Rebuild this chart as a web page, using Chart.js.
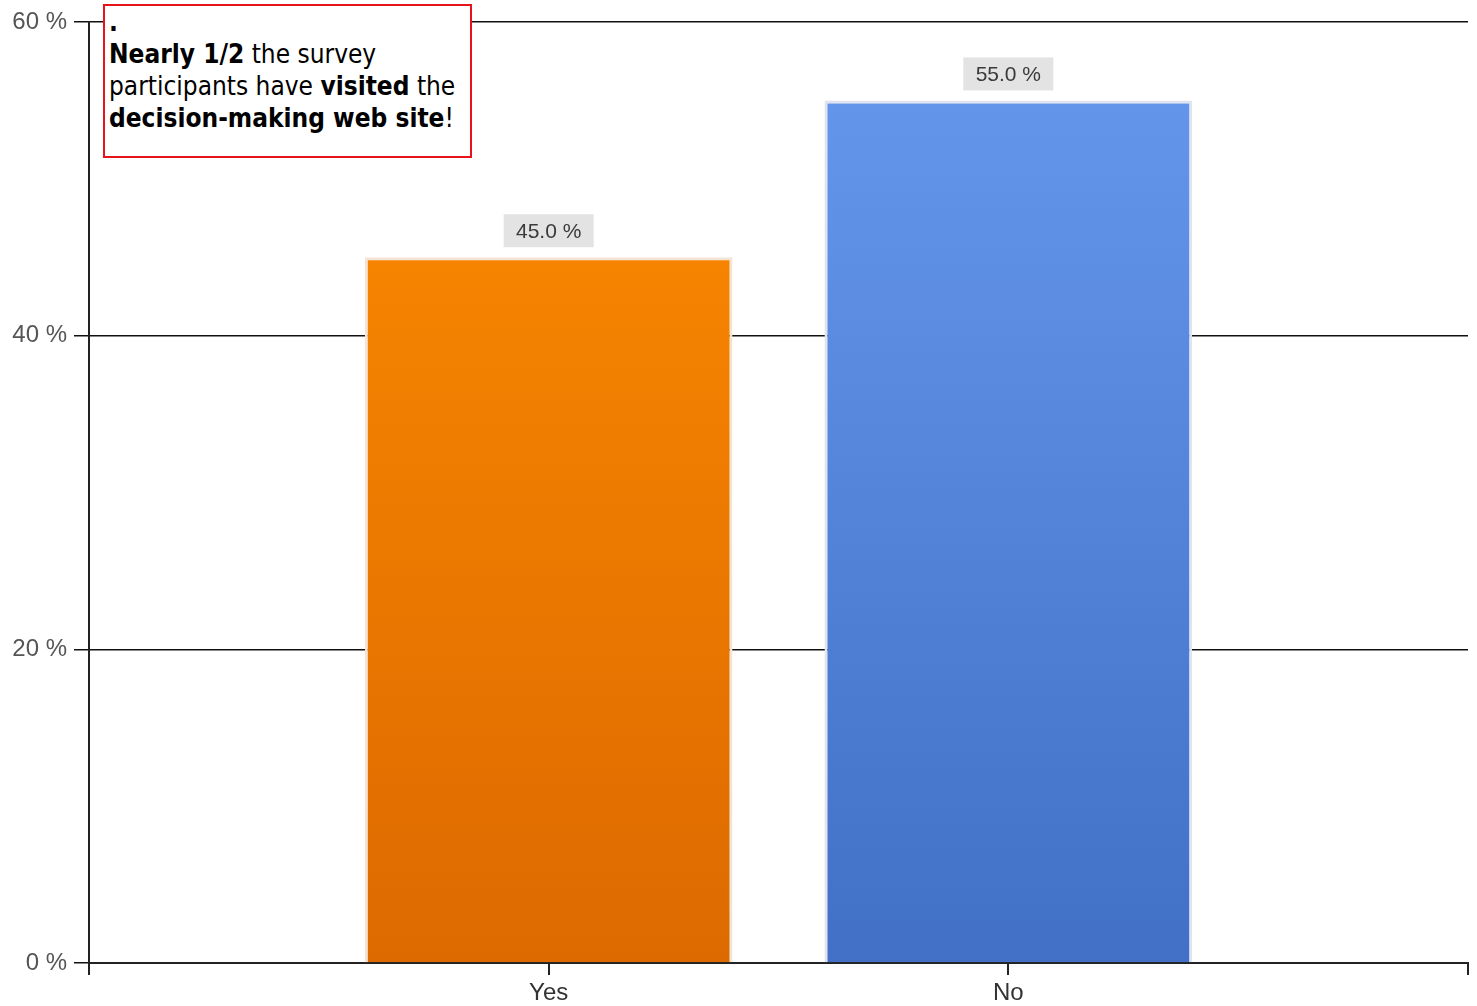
<!DOCTYPE html>
<html>
<head>
<meta charset="utf-8">
<script src="https://cdn.jsdelivr.net/npm/chart.js@4"></script>
<style>
  html, body { margin: 0; padding: 0; background: #fff; }
  #wrap { position: relative; width: 1477px; height: 1006px; }
  #note {
    position: absolute; left: 103px; top: 4px; width: 369px; height: 154px;
    border: 2px solid #e8141c; background: #fff;
    font-family: "DejaVu Sans Condensed", "DejaVu Sans", sans-serif;
    font-size: 26px; line-height: 32px; color: #000;
    padding: 0 0 0 4px; box-sizing: border-box;
  }
</style>
</head>
<body>
<div id="wrap">
  <canvas id="chart" width="1477" height="1006"></canvas>
  <div id="note"><b>.</b><br><b>Nearly 1/2</b> the survey participants have <b>visited</b> the <b>decision-making web site</b>!</div>
</div>
<script>
(function () {
  'use strict';

  // chart data
  const categories = ['', 'Yes', 'No', ''];
  const percentValues = [null, 45.0, 55.0, null];
  const yTicks = [0, 20, 40, 60];

  const topColors = [null, '#ff8c00', '#6699ee', null];
  const bottomColors = [null, '#dc6a00', '#4170c6', null];

  function barFill(ctx) {
    let area = ctx.chart.chartArea;
    let i = ctx.dataIndex;
    if (!area || !topColors[i]) return 'rgba(0,0,0,0)';
    let g = ctx.chart.ctx.createLinearGradient(0, area.top, 0, area.bottom);
    g.addColorStop(0, topColors[i]);
    g.addColorStop(1, bottomColors[i]);
    return g;
  }

  //VALUE BOXES ABOVE THE BARS
  const valueBoxes = {
    id: 'valueBoxes',
    afterDatasetsDraw: function (chart) {
      let ctx = chart.ctx;
      let meta = chart.getDatasetMeta(0);
      ctx.save();
      ctx.font = '21px "Liberation Sans", Arial, sans-serif';
      ctx.textAlign = 'center';
      ctx.textBaseline = 'middle';
      meta.data.forEach(function (bar, i) {
        let v = percentValues[i];
        if (v === null) return;
        let bw = 90, bh = 33;
        let bx = bar.x - bw / 2, by = bar.y - 10 - bh;
        ctx.fillStyle = '#e3e3e3';
        ctx.fillRect(bx, by, bw, bh);
        ctx.fillStyle = '#3a3a3a';
        ctx.fillText(v.toFixed(1) + ' %', bar.x, by + bh / 2 + 1);
      });
      ctx.restore();
    }
  };

  new Chart(document.getElementById('chart'), {
    type: 'bar',
    data: {
      labels: categories,
      datasets: [{
        data: percentValues,
        backgroundColor: barFill,
        borderColor: ['#fff', '#f4e4d6', '#dfe4ee', '#fff'],
        borderWidth: 3,
        borderSkipped: 'bottom',
        categoryPercentage: 1.0,
        barPercentage: 0.8
      }]
    },
    options: {
      responsive: false,
      animation: false,
      layout: { padding: { top: 22, right: 9, left: 0, bottom: 0 } },
      plugins: { legend: { display: false }, tooltip: { enabled: false } },
      scales: {
        x: {
          offset: false,
          afterFit: function (s) { s.height = 43; },
          grid: { offset: false, drawOnChartArea: false, color: '#222', lineWidth: 2, tickLength: 12 },
          border: { color: '#222', width: 2 },
          ticks: {
            color: '#333', padding: 4, maxRotation: 0, autoSkip: false,
            font: { family: '"Liberation Sans", Arial, sans-serif', size: 24 }
          }
        },
        y: {
          min: 0, max: 60,
          afterFit: function (s) { s.width = 89; },
          afterBuildTicks: function (s) { s.ticks = yTicks.map(function (v) { return { value: v }; }); },
          grid: { color: '#111', lineWidth: 1.5, tickLength: 15 },
          border: { color: '#222', width: 2 },
          ticks: {
            color: '#555', padding: 7,
            font: { family: '"Liberation Sans", Arial, sans-serif', size: 24 },
            callback: function (v) { return v + ' %'; }
          }
        }
      }
    },
    plugins: [valueBoxes]
  });
})();
</script>
</body>
</html>
